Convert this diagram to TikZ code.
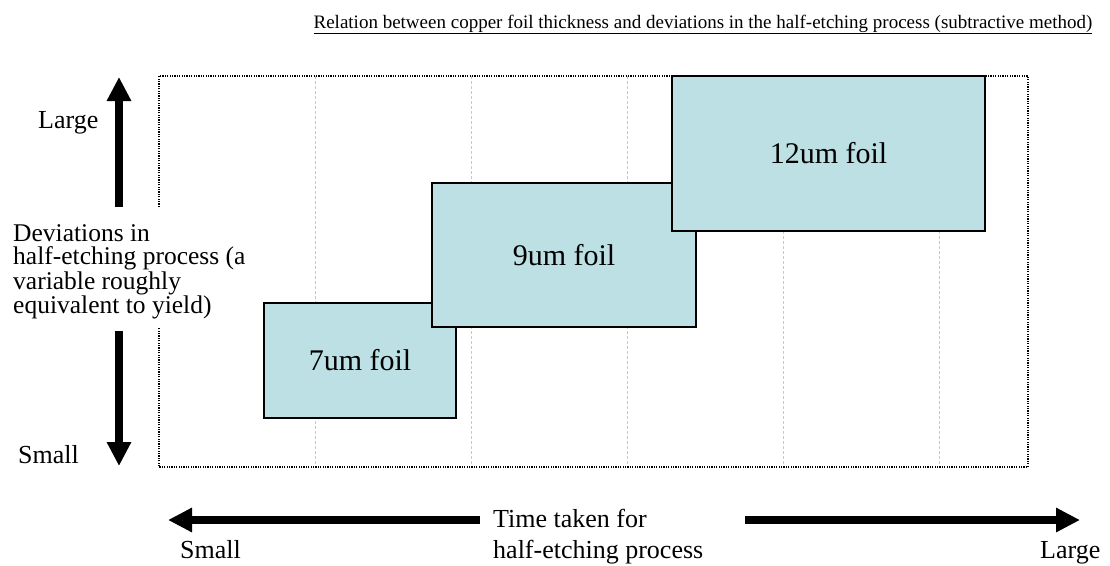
\documentclass[tikz,border=0pt]{standalone}
\usepackage{fontspec}
\setmainfont{Liberation Serif}
\usetikzlibrary{arrows.meta}
\definecolor{foilfill}{RGB}{188,224,227}
\definecolor{gridgray}{RGB}{200,200,200}
\tikzset{
  foilbox/.style={draw=black, line width=1.5pt, fill=foilfill, inner sep=0pt,
    font=\fontsize{30}{34}\selectfont},
  lbl/.style={inner sep=0pt, font=\fontsize{26}{22.7}\selectfont},
  bigarrow/.style={line width=7.5pt, -{Triangle[width=23pt,length=24pt]}},
  gridline/.style={draw=gridgray, line width=0.8pt, dash pattern=on 3pt off 2pt},
  frameline/.style={draw=black, line width=1.2pt, dash pattern=on 1.2pt off 1.2pt}
}
\begin{document}
\begin{tikzpicture}[x=1pt,y=-1pt]
\useasboundingbox (0,0) rectangle (1110,565);
% title
\node[inner sep=0pt, anchor=base, font=\fontsize{19}{22}\selectfont] (title) at (703,28)
  {\underline{Relation between copper foil thickness and deviations in the half-etching process (subtractive method)}};
% grid
\foreach \gx [count=\i] in {315,471,627,783,939}{
  \coordinate (gt\i) at (\gx,76);
  \coordinate (gb\i) at (\gx,467);
  \draw[gridline] (gt\i) -- (gb\i);
}
% frame
\coordinate (f1) at (159,207);
\coordinate (f2) at (159,76);
\coordinate (f3) at (1028,76);
\coordinate (f4) at (1028,467);
\coordinate (f5) at (159,467);
\coordinate (f6) at (159,328);
\draw[frameline] (f1) -- (f2) -- (f3) -- (f4) -- (f5) -- (f6);
% boxes
\node[foilbox, minimum width=192pt, minimum height=115pt] (b7) at (360,360.5) {7um foil};
\node[foilbox, minimum width=264pt, minimum height=144pt] (b9) at (564,255) {9um foil};
\node[foilbox, minimum width=313pt, minimum height=155pt] (b12) at (828.5,153.5) {12um foil};
% vertical axis
\node[lbl, anchor=base west] (ylarge) at (38,128) {Large};
\node[lbl, anchor=base west] (ysmall) at (18,463) {Small};
\node[lbl, anchor=west, align=left, font=\fontsize{25.5}{23}\selectfont] (ylab) at (13,272) {Deviations in\\half-etching process (a\\variable roughly\\equivalent to yield)};
\coordinate (vu1) at (119,207);
\coordinate (vu2) at (119,77);
\coordinate (vd1) at (119,331);
\coordinate (vd2) at (119,466);
\draw[bigarrow] (vu1) -- (vu2);
\draw[bigarrow] (vd1) -- (vd2);
% horizontal axis
\node[lbl, anchor=west, align=left, font=\fontsize{26}{31}\selectfont] (xlab) at (493,536.5) {Time taken for\\half-etching process};
\node[lbl, anchor=base west] (xsmall) at (180,558) {Small};
\node[lbl, anchor=base west] (xlarge) at (1040,558) {Large};
\coordinate (hl1) at (480,520);
\coordinate (hl2) at (168,520);
\coordinate (hr1) at (745,520);
\coordinate (hr2) at (1080,520);
\draw[bigarrow] (hl1) -- (hl2);
\draw[bigarrow] (hr1) -- (hr2);
\end{tikzpicture}
\end{document}
